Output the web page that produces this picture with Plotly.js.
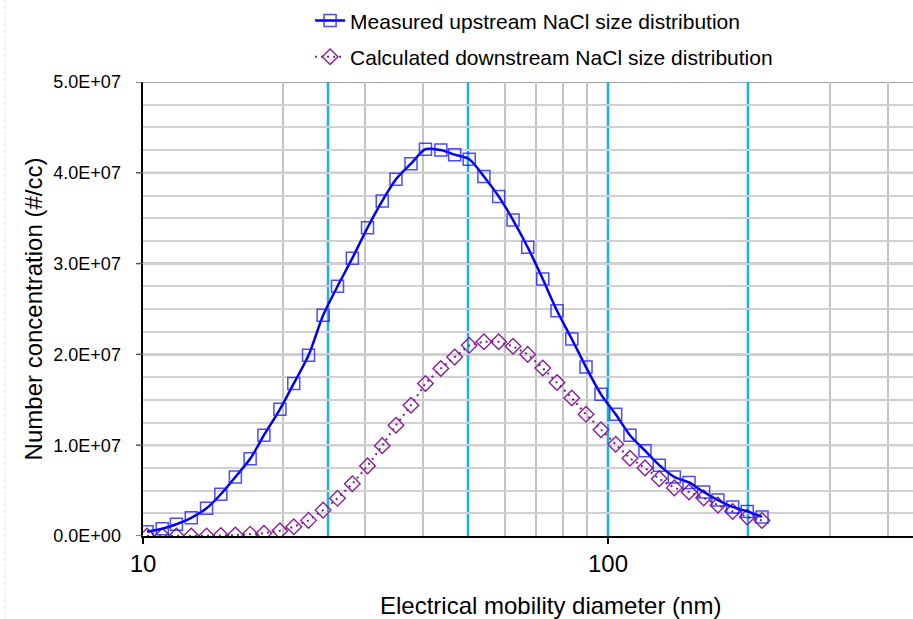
<!DOCTYPE html>
<html>
<head>
<meta charset="utf-8">
<script src="https://cdn.plot.ly/plotly-3.0.1.min.js"></script>
<style>
  html, body { margin: 0; padding: 0; background: #ffffff; }
  #chart { width: 913px; height: 619px; }
</style>
</head>
<body>
<div id="chart"></div>
<script>
// Electrical mobility diameter of each size channel (nm)
const diameters = [10.2, 11.0, 11.8, 12.7, 13.7, 14.7, 15.8, 17.0, 18.2, 19.7,
  21.1, 22.7, 24.4, 26.2, 28.2, 30.4, 32.7, 35.0, 37.7, 40.5,
  43.7, 46.8, 50.3, 54.1, 58.2, 62.5, 67.2, 72.4, 77.7, 83.6,
  89.7, 96.6, 103.9, 111.5, 120.1, 128.9, 138.9, 149.4, 160.6, 172.4,
  185.4, 199.3, 214.4];

// Measured upstream NaCl number concentration (#/cc)
const upstream = [0.47e6, 0.80e6, 1.29e6, 2.00e6, 3.05e6, 4.60e6, 6.50e6, 8.50e6, 11.1e6, 13.95e6,
  16.8e6, 19.9e6, 24.3e6, 27.5e6, 30.6e6, 33.95e6, 36.9e6, 39.3e6, 41.0e6, 42.6e6,
  42.5e6, 42.0e6, 41.5e6, 39.6e6, 37.4e6, 34.8e6, 31.8e6, 28.3e6, 24.8e6, 21.7e6,
  18.6e6, 15.6e6, 13.4e6, 11.1e6, 9.4e6, 7.8e6, 6.5e6, 5.9e6, 4.85e6, 3.96e6,
  3.2e6, 2.7e6, 2.1e6];

// Calculated downstream NaCl number concentration (#/cc)
const downstream = [0, 0, 0, 0, 0, 0.05e6, 0.1e6, 0.2e6, 0.3e6, 0.58e6,
  1.02e6, 1.72e6, 2.85e6, 4.15e6, 5.75e6, 7.72e6, 9.95e6, 12.2e6, 14.4e6, 16.8e6,
  18.45e6, 19.7e6, 21.0e6, 21.4e6, 21.4e6, 20.9e6, 20.0e6, 18.5e6, 16.9e6, 15.2e6,
  13.4e6, 11.7e6, 10.1e6, 8.56e6, 7.5e6, 6.3e6, 5.3e6, 4.85e6, 4.2e6, 3.4e6,
  2.7e6, 2.1e6, 1.7e6];

// Reference diameters marked with vertical lines (nm)
const guideDiameters = [25, 50, 100, 200];

// Axis ticks and grid
const xTickVals = [10, 100];
const xTickText = ['10', '100'];
const xGridVals = [20, 30, 40, 60, 70, 80, 90, 300, 400];
const yMajorVals = [0, 1e7, 2e7, 3e7, 4e7, 5e7];
const yMajorText = ['0.0E+00', '1.0E+07', '2.0E+07', '3.0E+07', '4.0E+07', '5.0E+07'];
const yGridVals = [0, 2.5e6, 5e6, 7.5e6, 1e7, 12.5e6, 15e6, 17.5e6, 2e7, 22.5e6, 25e6, 27.5e6,
  3e7, 32.5e6, 35e6, 37.5e6, 4e7, 42.5e6, 45e6, 47.5e6, 5e7];

const FONT = 'Liberation Sans, Arial, sans-serif';

// label only the major grid values
const yGridText = yGridVals.map(v => {
  const i = yMajorVals.indexOf(v);
  return i >= 0 ? yMajorText[i] : '';
});

const traces = [
  {
    x: diameters, y: downstream,
    name: 'Calculated downstream NaCl size distribution',
    legendgroup: 'down', legendrank: 2,
    mode: 'lines+markers', type: 'scatter',
    line: { color: '#7f1f8c', width: 2, dash: '2px,4px' },
    marker: { symbol: 'diamond-open', size: 12, color: '#8a1e96', line: { width: 1.4 } }
  },
  {
    x: diameters, y: upstream,
    name: 'Measured upstream NaCl size distribution',
    legendgroup: 'up', legendrank: 1,
    mode: 'lines+markers', type: 'scatter',
    line: { color: '#0000f0', width: 2.5, shape: 'spline', smoothing: 0.8 },
    marker: { symbol: 'square-open', size: 12, color: 'rgba(30,30,255,0.8)', line: { width: 1.5 } }
  }
];

const shapes = [];
// darker major horizontal gridlines and their outside tick marks
yMajorVals.forEach(v => {
  if (v > 0) {
    shapes.push({
      type: 'line', xref: 'paper', yref: 'y', x0: 0, x1: 1, y0: v, y1: v,
      line: { color: '#a0a0a0', width: 2 }, layer: 'between'
    });
  }
  shapes.push({
    type: 'line', xref: 'paper', yref: 'y', x0: -0.009, x1: 0, y0: v, y1: v,
    line: { color: '#555555', width: 1.5 }, layer: 'above'
  });
});
// vertical reference lines
guideDiameters.forEach(d => {
  shapes.push({
    type: 'line', xref: 'x', yref: 'paper', x0: d, x1: d, y0: 0, y1: 1,
    line: { color: '#1ab2e6', width: 2.5 }, layer: 'between'
  });
});
// faint dotted frame edge on the left
shapes.push({
  type: 'line', xref: 'paper', yref: 'paper',
  x0: -0.179, x1: -0.179, y0: -0.2, y1: 1.2,
  line: { color: '#e4e4e4', width: 1, dash: 'dot' }
});

const layout = {
  width: 913, height: 619,
  margin: { l: 143, r: 0, t: 82, b: 83 },
  paper_bgcolor: '#ffffff', plot_bgcolor: '#ffffff',
  font: { family: FONT, color: '#000000' },
  showlegend: true,
  legend: {
    x: 0.217, xanchor: 'left', y: 1.18, yanchor: 'top',
    font: { family: FONT, size: 21, color: '#000000' },
    tracegroupgap: 6, bgcolor: 'rgba(0,0,0,0)'
  },
  xaxis: {
    type: 'log',
    range: [1, 2.656],
    tickmode: 'array', tickvals: xTickVals, ticktext: xTickText,
    ticks: 'outside', ticklen: 6, tickcolor: '#000000', tickwidth: 1.5,
    tickfont: { family: FONT, size: 24, color: '#000000' },
    showline: true, linecolor: '#000000', linewidth: 1.5,
    showgrid: false,
    minor: { tickmode: 'array', tickvals: xGridVals, showgrid: true, gridcolor: '#c4c4c4', gridwidth: 1.8, ticks: '' },
    zeroline: false
  },
  yaxis: {
    range: [0, 5e7],
    tickmode: 'array', tickvals: yGridVals, ticktext: yGridText,
    ticks: 'outside', ticklen: 16, tickcolor: 'rgba(0,0,0,0)',
    tickfont: { family: FONT, size: 18, color: '#000000' },
    showline: true, linecolor: '#000000', linewidth: 2.5,
    showgrid: true, gridcolor: '#d0d0d0', gridwidth: 2,
    zeroline: false,
    title: { text: 'Number concentration (#/cc)', font: { family: FONT, size: 24, color: '#000000' }, standoff: 4 }
  },
  annotations: [{
    text: 'Electrical mobility diameter (nm)',
    xref: 'paper', yref: 'paper', x: 0.5286, y: -0.154,
    xanchor: 'center', yanchor: 'middle', showarrow: false,
    font: { family: FONT, size: 24, color: '#000000' }
  }],
  shapes: shapes
};

Plotly.newPlot('chart', traces, layout, { staticPlot: true, displayModeBar: false });
</script>
</body>
</html>
